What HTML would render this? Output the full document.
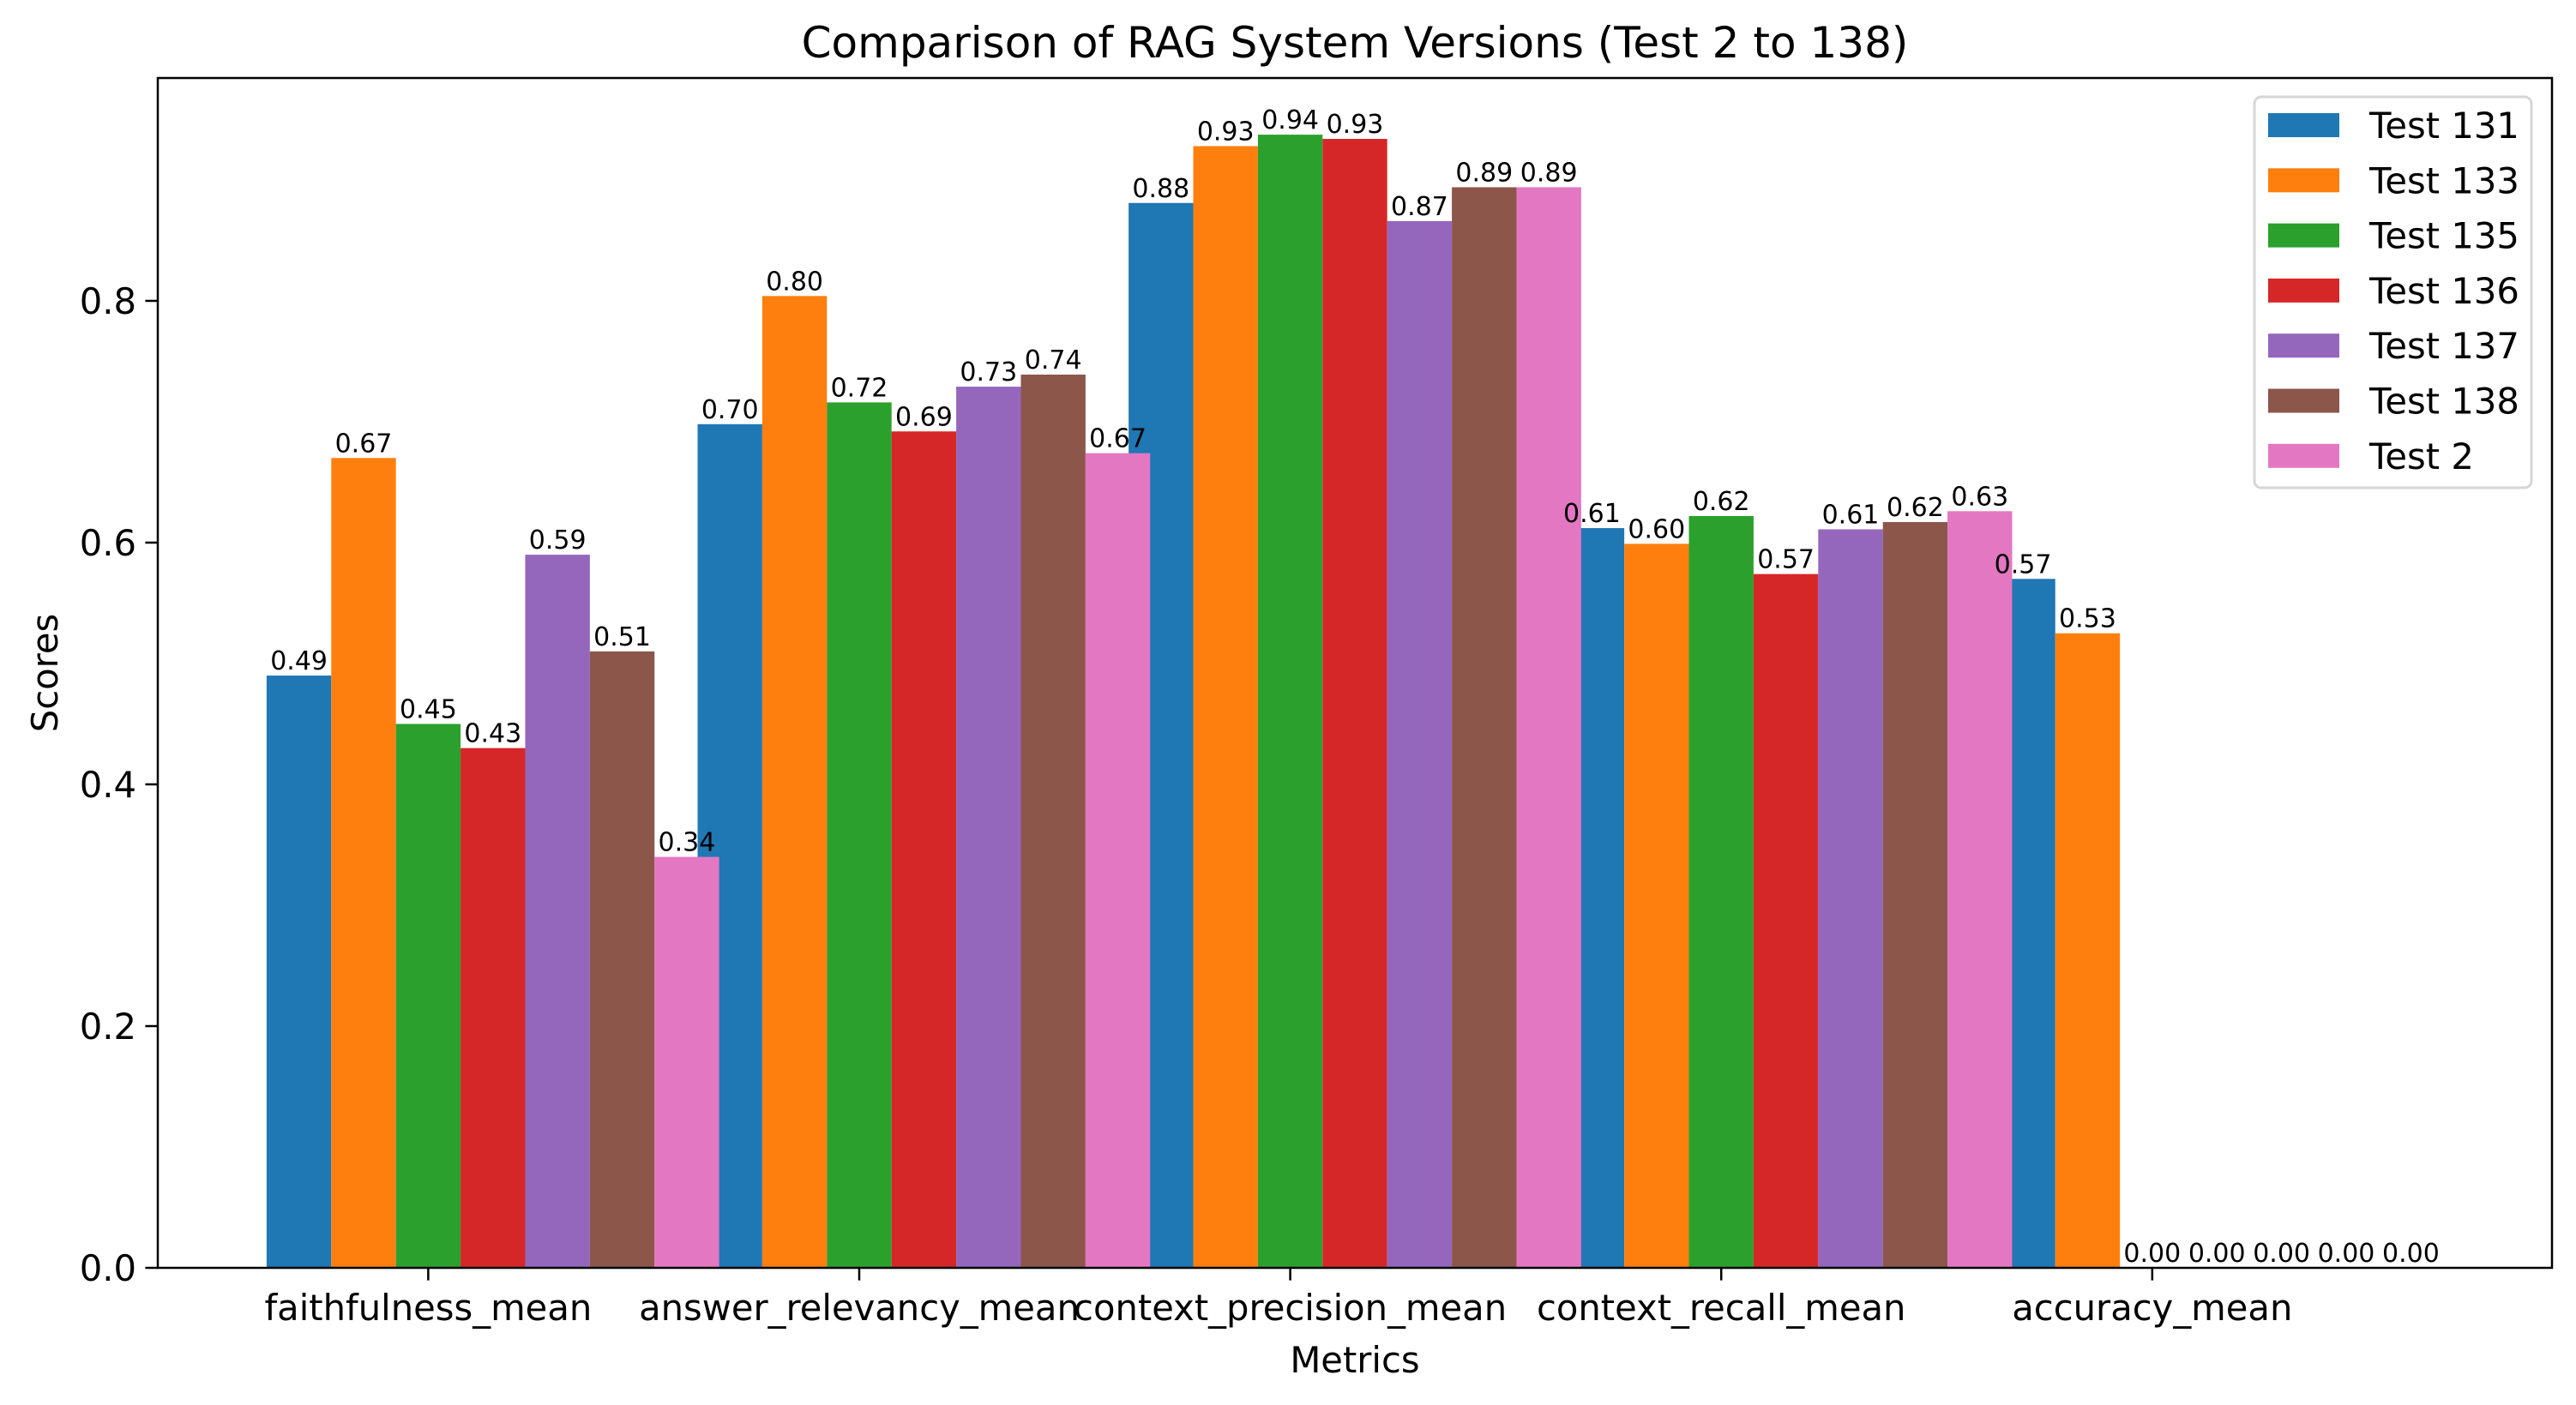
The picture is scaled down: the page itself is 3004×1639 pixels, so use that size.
<!DOCTYPE html>
<html><head><meta charset="utf-8"><style>body{margin:0;background:#fff}svg{display:block}text{font-family:"DejaVu Sans","Liberation Sans",sans-serif}</style></head>
<body>
<svg id="chart" width="3004" height="1639" xmlns="http://www.w3.org/2000/svg">
<rect width="3004" height="1639" fill="#fff"/>
<text x="1580" y="67" font-size="50" text-anchor="middle">Comparison of RAG System Versions (Test 2 to 138)</text>
<text x="1580" y="1601" font-size="41.7" text-anchor="middle">Metrics</text>
<text x="0" y="0" font-size="41.7" text-anchor="middle" transform="translate(67,785) rotate(-90)">Scores</text>
<g id="bars"></g><g id="labels"></g><g id="axes"></g><g id="legend"></g>
</svg>
<script>
const categories = ["faithfulness_mean","answer_relevancy_mean","context_precision_mean","context_recall_mean","accuracy_mean"];
const seriesNames = ["Test 131","Test 133","Test 135","Test 136","Test 137","Test 138","Test 2"];
const s131 = [0.49,0.698,0.881,0.612,0.57];
const s133 = [0.67,0.804,0.928,0.599,0.525];
const s135 = [0.45,0.716,0.9375,0.622,0];
const s136 = [0.43,0.692,0.934,0.574,0];
const s137 = [0.59,0.729,0.866,0.611,0];
const s138 = [0.51,0.739,0.894,0.617,0];
const s2 = [0.34,0.674,0.894,0.626,0];
const yTicks = [0.0,0.2,0.4,0.6,0.8];
const series = [s131,s133,s135,s136,s137,s138,s2];
const colors = ["#1f77b4","#ff7f0e","#2ca02c","#d62728","#9467bd","#8c564b","#e377c2"];
const NS="http://www.w3.org/2000/svg";
const L=184,R=2976,T=91,B=1479;
const barW=0.15;
let allMax=0; series.forEach(s=>s.forEach(v=>{if(v>allMax)allMax=v;}));
const x0=-2*barW-barW/2, x1=(categories.length-1)+4*barW+barW/2, m=(x1-x0)*0.05;
const xmin=x0-m, xmax=x1+m, ymax=allMax*1.05;
const X=v=>L+(v-xmin)/(xmax-xmin)*(R-L);
const Y=v=>B-v/ymax*(B-T);
function mk(tag,attrs,parent,txt){const e=document.createElementNS(NS,tag);for(const k in attrs)e.setAttribute(k,attrs[k]);if(txt!==undefined)e.textContent=txt;parent.appendChild(e);return e;}
const gb=document.getElementById('bars'),gl=document.getElementById('labels'),ga=document.getElementById('axes'),gg=document.getElementById('legend');
series.forEach((s,i)=>{s.forEach((v,c)=>{
 const xc=c+(i-2)*barW;
 const r=mk('rect',{x:X(xc-barW/2),y:Y(v),width:X(xc+barW/2)-X(xc-barW/2),height:Y(0)-Y(v),fill:colors[i]},gb);
 
 
 const t=mk('text',{x:X(xc),y:Y(v)-7,'font-size':'30','text-anchor':'middle'},gl,v.toFixed(2));
 
 
});});
const fr=mk('rect',{x:L,y:T,width:R-L,height:B-T,fill:'none',stroke:'#000','stroke-width':'2.5'},ga);


yTicks.forEach(v=>{
 mk('line',{x1:L-14.6,x2:L,y1:Y(v),y2:Y(v),stroke:'#000','stroke-width':'2.5'},ga);
 const t=mk('text',{x:L-25,y:Y(v)+15,'font-size':'41.7','text-anchor':'end'},ga,v.toFixed(1));
 
 
});
categories.forEach((c,i)=>{
 mk('line',{x1:X(i),x2:X(i),y1:B,y2:B+14.6,stroke:'#000','stroke-width':'2.5'},ga);
 const t=mk('text',{x:X(i),y:B+61,'font-size':'41.7','text-anchor':'middle'},ga,c);
 
 
});
const lb=mk('rect',{x:2629,y:113,width:323,height:456,rx:8,fill:'#fff','fill-opacity':'0.8',stroke:'#d6d6d6','stroke-width':'3'},gg);


seriesNames.forEach((n,i)=>{
 const y=132+i*64.3;
 const p=mk('rect',{x:2645,y:y,width:83,height:28,fill:colors[i]},gg);
 
 
 const t=mk('text',{x:2763,y:y+29,'font-size':'41.7'},gg,n);
 
 
});
</script>
</body></html>
